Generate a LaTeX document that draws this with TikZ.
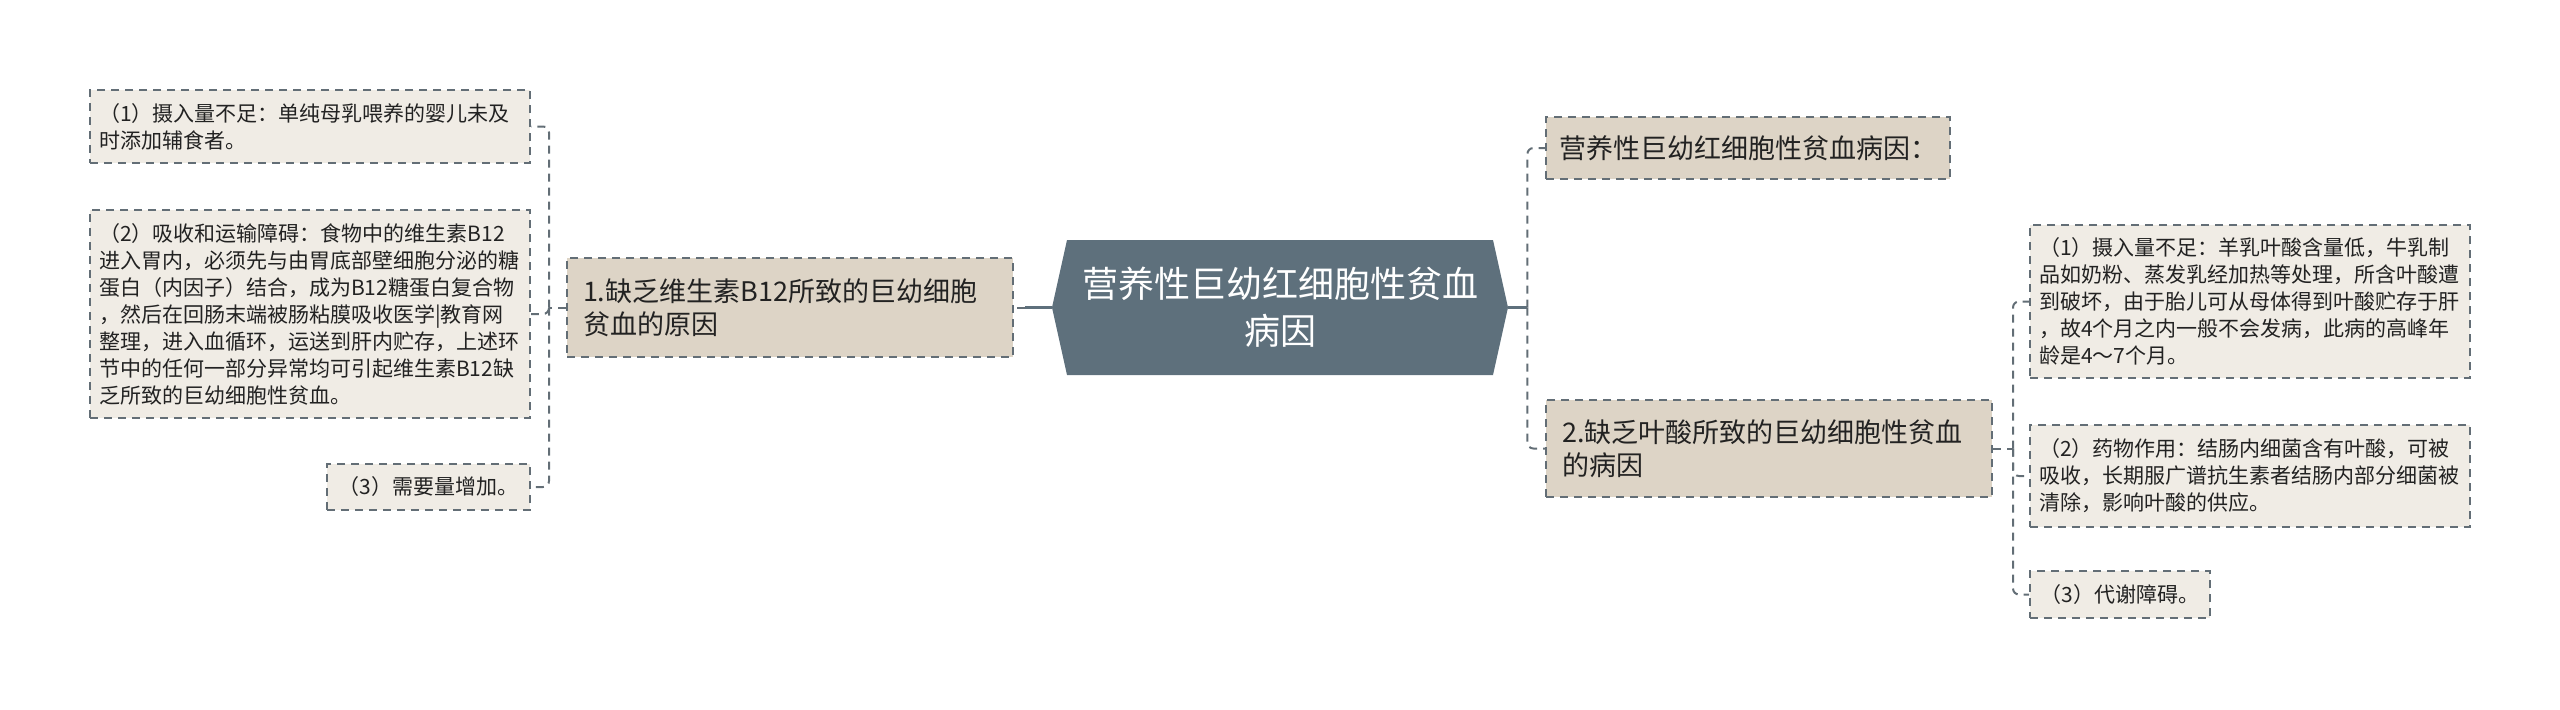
\documentclass[tikz,border=0pt]{standalone}
\usepackage{fontspec}
\newfontfamily\cjk{Noto Sans CJK SC}
\definecolor{slate}{HTML}{5E707C}
\definecolor{leaffill}{HTML}{F0ECE5}
\definecolor{parentfill}{HTML}{DDD4C6}
\definecolor{bordercol}{HTML}{636E76}
\definecolor{txt}{HTML}{222222}
\tikzset{
  boxbase/.style={draw=bordercol, line width=1pt, dash pattern=on 4pt off 3pt, text=txt, anchor=center, inner ysep=0pt},
  leaf/.style={boxbase, fill=leaffill, font=\cjk\fontsize{10.5pt}{13.5pt}\selectfont, align=left, inner xsep=4.5pt, text width=211pt},
  smallleaf/.style={boxbase, fill=leaffill, font=\cjk\fontsize{10.5pt}{13.5pt}\selectfont, align=center, inner xsep=3pt},
  parent/.style={boxbase, fill=parentfill, font=\cjk\fontsize{13.5pt}{16.5pt}\selectfont, align=left, inner xsep=8pt},
  centernode/.style={font=\cjk\fontsize{18pt}{23.5pt}\selectfont, text=white, align=center, anchor=center,
    minimum width=228pt, minimum height=67.5pt, inner sep=0pt,
    path picture={\fill[slate] ([xshift=7.5pt]path picture bounding box.north west) -- ([xshift=-7.5pt]path picture bounding box.north east) -- (path picture bounding box.east) -- ([xshift=-7.5pt]path picture bounding box.south east) -- ([xshift=7.5pt]path picture bounding box.south west) -- (path picture bounding box.west) -- cycle;}},
  conn/.style={draw=bordercol, line width=1pt, dash pattern=on 4pt off 3pt, rounded corners=3pt},
  trunk/.style={draw=slate, line width=1.5pt}
}
\begin{document}
\begin{tikzpicture}[x=0.5pt,y=-0.5pt]
\useasboundingbox (0,0) rectangle (2560,709);
% center
\node[centernode] (center) at (1280,307.5) {营养性巨幼红细胞性贫血\\病因};
% left parent
\node[parent, text width=207pt, minimum height=49.5pt] (p1) at (790,307.5) {1.缺乏维生素B12所致的巨幼细胞\\贫血的原因};
% left leaves
\node[leaf, minimum height=36.5pt] (l1) at (310,126.5) {（1）摄入量不足：单纯母乳喂养的婴儿未及\\时添加辅食者。};
\node[leaf, minimum height=104pt] (l2) at (310,314) {（2）吸收和运输障碍：食物中的维生素B12\\进入胃内，必须先与由胃底部壁细胞分泌的糖\\蛋白（内因子）结合，成为B12糖蛋白复合物\\，然后在回肠末端被肠粘膜吸收医学|教育网\\整理，进入血循环，运送到肝内贮存，上述环\\节中的任何一部分异常均可引起维生素B12缺\\乏所致的巨幼细胞性贫血。};
\node[smallleaf, minimum width=101.5pt, minimum height=23pt] (l3) at (428.5,487) {（3）需要量增加。};
% right parents
\node[parent, minimum width=202pt, minimum height=31pt, inner xsep=6pt] (r0) at (1748,148) {营养性巨幼红细胞性贫血病因：};
\node[parent, text width=207pt, minimum height=48.5pt] (r2) at (1769,448.5) {2.缺乏叶酸所致的巨幼细胞性贫血\\的病因};
% right leaves
\node[leaf, minimum height=76.5pt] (rl1) at (2250,301.5) {（1）摄入量不足：羊乳叶酸含量低，牛乳制\\品如奶粉、蒸发乳经加热等处理，所含叶酸遭\\到破坏，由于胎儿可从母体得到叶酸贮存于肝\\，故4个月之内一般不会发病，此病的高峰年\\龄是4～7个月。};
\node[leaf, minimum height=51pt] (rl2) at (2250,476) {（2）药物作用：结肠内细菌含有叶酸，可被\\吸收，长期服广谱抗生素者结肠内部分细菌被\\清除，影响叶酸的供应。};
\node[smallleaf, minimum width=90pt, minimum height=23.5pt] (rl3) at (2120,594.5) {（3）代谢障碍。};
% connectors
\draw[trunk] (center.west) -- ++(-27,0) coordinate (tl);
\draw[conn] (tl) -- (p1.east);
\draw[conn] (p1.west) -- ++(-17,0) coordinate (jl);
\draw[conn] (jl) |- (l1.east);
\draw[conn] (jl) |- (l2.east);
\draw[conn] (jl) |- (l3.east);
\draw[trunk] (center.east) -- ++(19,0) coordinate (tr);
\draw[conn] (tr) |- (r0.west);
\draw[conn] (tr) |- (r2.west);
\draw[conn] (r2.east) -- ++(20,0) coordinate (jr);
\draw[conn] (jr) |- (rl1.west);
\draw[conn] (jr) |- (rl2.west);
\draw[conn] (jr) |- (rl3.west);
\end{tikzpicture}
\end{document}
